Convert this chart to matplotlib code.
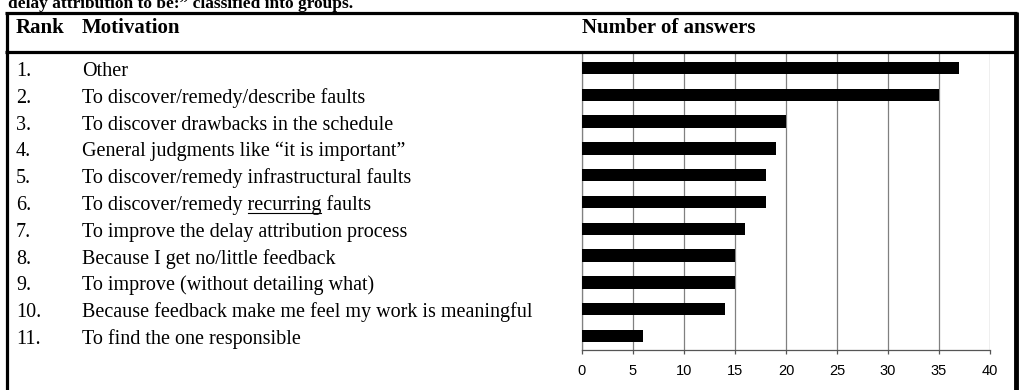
import matplotlib
matplotlib.use("Agg")
import matplotlib.pyplot as plt
from matplotlib import transforms
from matplotlib.lines import Line2D
import numpy as np

ranks = ["1.", "2.", "3.", "4.", "5.", "6.", "7.", "8.", "9.", "10.", "11."]
motivations = [
    "Other",
    "To discover/remedy/describe faults",
    "To discover drawbacks in the schedule",
    "General judgments like \u201cit is important\u201d",
    "To discover/remedy infrastructural faults",
    "To discover/remedy recurring faults",
    "To improve the delay attribution process",
    "Because I get no/little feedback",
    "To improve (without detailing what)",
    "Because feedback make me feel my work is meaningful",
    "To find the one responsible",
]
answers = [37, 35, 20, 19, 18, 18, 16, 15, 15, 14, 6]
xticks = [0, 5, 10, 15, 20, 25, 30, 35, 40]

W, H = 1019, 390
fig = plt.figure(figsize=(W / 100, H / 100), dpi=100)

def fx(x):
    return x / W

def fy(y):
    return 1 - y / H

serif = "Liberation Serif"
sans = "Liberation Sans"
body = 14.5

# bar chart area
ax = fig.add_axes([fx(582), fy(350), fx(990) - fx(582), fy(53) - fy(350)])
y = np.arange(len(answers))
ax.barh(y, answers, height=0.46, color="black", zorder=3)
ax.set_xlim(0, 40)
ax.set_ylim(10.52, -0.56)
ax.set_xticks(xticks)
ax.set_xticklabels([str(t) for t in xticks], family=sans, size=10.5)
ax.set_yticks([])
ax.grid(axis="x", color="#808080", lw=0.9, zorder=0)
for s in ["top", "right"]:
    ax.spines[s].set_visible(False)
ax.spines["left"].set_color("#808080")
ax.spines["left"].set_linewidth(0.9)
ax.spines["bottom"].set_color("#555555")
ax.spines["bottom"].set_linewidth(0.9)
ax.tick_params(axis="x", direction="out", length=3, width=0.9, color="#555555", pad=7)

# table frame
frame = dict(color="black", lw=2.3, transform=fig.transFigure, solid_capstyle="butt")
fig.add_artist(Line2D([fx(5), fx(1017)], [fy(13), fy(13)], **frame))
fig.add_artist(Line2D([fx(6.5), fx(6.5)], [fy(12), fy(400)], **frame))
fig.add_artist(Line2D([fx(1015.5), fx(1015.5)], [fy(12), fy(400)], lw=3.5, color="black",
                      transform=fig.transFigure, solid_capstyle="butt"))
fig.add_artist(Line2D([fx(5), fx(1017)], [fy(52), fy(52)], **frame))

# caption (cut off at the top)
fig.text(fx(8), fy(7.5), "delay attribution to be:\u201d classified into groups.",
         family=serif, weight="bold", size=12.5, va="baseline", ha="left")

# header
hdr = dict(family=serif, weight="bold", size=15, va="center", ha="left")
fig.text(fx(16), fy(28), "Rank", **hdr)
fig.text(fx(82), fy(28), "Motivation", **hdr)
fig.text(fx(582), fy(28), "Number of answers", **hdr)

# row labels, aligned with bars
trans = transforms.blended_transform_factory(fig.transFigure, ax.transData)
row = dict(family=serif, size=body, va="baseline", ha="left", transform=trans)
off = 0.3
texts = []
for i, (r, m) in enumerate(zip(ranks, motivations)):
    fig.text(fx(16), i + off, r, **row)
    texts.append(fig.text(fx(82), i + off, m, **row))

# underline "recurring"
fig.canvas.draw()
rend = fig.canvas.get_renderer()

def width(s):
    t = fig.text(0, 0, s, family=serif, size=body)
    w = t.get_window_extent(rend).width
    t.remove()
    return w

full = motivations[5]
x0 = texts[5].get_window_extent(rend).x0
start = x0 + width(full) - width("recurring faults")
end = start + width("recurring")
base = trans.transform((0, 5 + off))[1] - 2.5
fig.add_artist(Line2D([start, end], [base, base], color="black", lw=0.8,
                      transform=transforms.IdentityTransform()))

fig.savefig("out.png", dpi=100)
